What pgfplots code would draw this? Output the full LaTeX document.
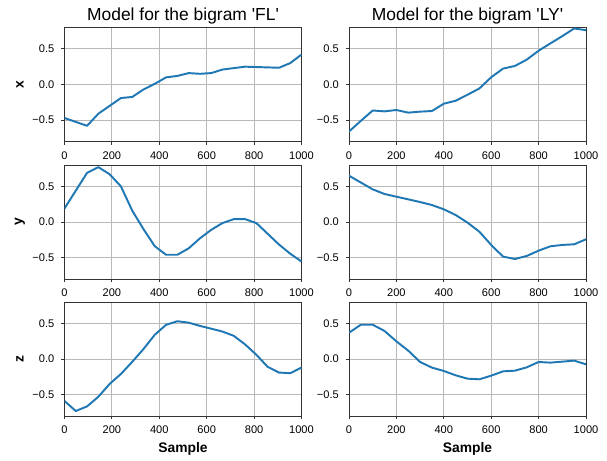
\documentclass[border=0pt]{standalone}
\usepackage{pgfplots}
\pgfplotsset{compat=1.18}
\usepackage{pgfplotstable}
\usepackage{fontspec}
\setmainfont{Liberation Sans}[Ligatures=TeXOff]
\definecolor{mplblue}{HTML}{1F77B4}

\pgfplotstableread{
s X Y Z
0 -0.47 0.19 -0.59
47.62 -0.525 0.44 -0.73
95.24 -0.58 0.69 -0.665
142.86 -0.41 0.77 -0.53
190.48 -0.30 0.67 -0.35
238.10 -0.19 0.50 -0.21
285.71 -0.175 0.16 -0.04
333.33 -0.07 -0.10 0.14
380.95 0.01 -0.34 0.34
428.57 0.10 -0.46 0.48
476.19 0.12 -0.46 0.53
523.81 0.16 -0.37 0.51
571.43 0.15 -0.23 0.465
619.05 0.16 -0.11 0.425
666.67 0.21 -0.015 0.385
714.29 0.23 0.04 0.325
761.90 0.25 0.04 0.205
809.52 0.245 -0.015 0.06
857.14 0.24 -0.165 -0.11
904.76 0.235 -0.315 -0.19
952.38 0.30 -0.445 -0.20
1000 0.42 -0.555 -0.12
}\datafl

\pgfplotstableread{
s X Y Z
0 -0.66 0.65 0.369
50 -0.51 0.554 0.481
100 -0.365 0.458 0.481
150 -0.377 0.393 0.393
200 -0.358 0.355 0.248
250 -0.395 0.318 0.117
300 -0.381 0.28 -0.042
350 -0.372 0.238 -0.121
400 -0.27 0.178 -0.168
450 -0.228 0.098 -0.229
500 -0.144 -0.009 -0.276
550 -0.056 -0.136 -0.285
600 0.102 -0.322 -0.234
650 0.223 -0.486 -0.173
700 0.26 -0.519 -0.164
750 0.349 -0.477 -0.117
800 0.474 -0.402 -0.042
850 0.577 -0.341 -0.051
900 0.679 -0.322 -0.037
950 0.786 -0.313 -0.023
1000 0.763 -0.243 -0.075
}\dataly

\pgfplotsset{
  myax/.style={
    scale only axis,
    width=2.37in, height=1.14in,
    anchor=south west,
    xmin=0, xmax=1000, ymin=-0.8, ymax=0.8,
    xtick={0,200,400,600,800,1000},
    xticklabels={0,200,400,600,800,1000},
    ytick={-0.5,0,0.5},
    yticklabels={−0.5,0.0,0.5},
    /pgf/number format/assume math mode=true,
    tick pos=left,
    tick align=outside,
    major tick length=2.3pt,
    tick style={black!80, line width=0.6pt},
    axis line style={black!80, line width=0.6pt},
    grid=major,
    major grid style={black!28, line width=0.6pt},
    ticklabel style={font=\fontsize{8}{9}\selectfont, inner sep=0pt},
    xticklabel style={anchor=north},
    yticklabel style={anchor=east},
    xticklabel shift=4.6pt,
    yticklabel shift=4.9pt,
    title style={font=\fontsize{12.6}{15}\selectfont, anchor=base, at={(0.5,1)}, yshift=-0.012in},
    every axis y label/.style={at={(0,0.5)}, xshift=-0.445in, rotate=90, anchor=center, font=\bfseries\fontsize{10}{12}\selectfont},
    every axis x label/.style={at={(0.5,0)}, yshift=-0.36in, anchor=base, font=\bfseries\fontsize{10}{12}\selectfont},
  },
  myline/.style={mplblue, line width=1.4pt, line join=round, no marks},
}

\begin{document}
\begin{tikzpicture}
\path[use as bounding box] (0,0) rectangle (6.07in,4.61in);
% column 1
\begin{axis}[myax, at={(0.645in,3.195in)}, title={Model for the bigram 'FL'}, ylabel={x}]
\addplot[myline] table[x=s,y=X] {\datafl};
\end{axis}
\begin{axis}[myax, at={(0.645in,1.82in)}, ylabel={y}]
\addplot[myline] table[x=s,y=Y] {\datafl};
\end{axis}
\begin{axis}[myax, at={(0.645in,0.45in)}, ylabel={z}, xlabel={Sample}]
\addplot[myline] table[x=s,y=Z] {\datafl};
\end{axis}
% column 2
\begin{axis}[myax, at={(3.49in,3.195in)}, title={Model for the bigram 'LY'}]
\addplot[myline] table[x=s,y=X] {\dataly};
\end{axis}
\begin{axis}[myax, at={(3.49in,1.82in)}]
\addplot[myline] table[x=s,y=Y] {\dataly};
\end{axis}
\begin{axis}[myax, at={(3.49in,0.45in)}, xlabel={Sample}]
\addplot[myline] table[x=s,y=Z] {\dataly};
\end{axis}
\end{tikzpicture}
\end{document}
